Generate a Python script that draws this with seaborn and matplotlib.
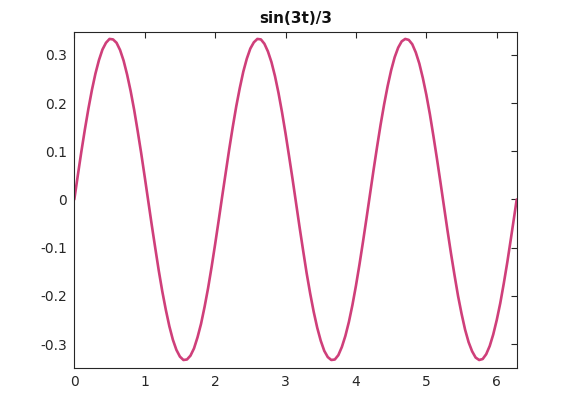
import matplotlib
matplotlib.use("Agg")
import matplotlib.pyplot as plt
import seaborn as sns
import pandas as pd

t_values = [0.00, 0.05, 0.10, 0.15, 0.20, 0.25, 0.30, 0.35, 0.40, 0.45,
            0.50, 0.55, 0.60, 0.65, 0.70, 0.75, 0.80, 0.85, 0.90, 0.95,
            1.00, 1.05, 1.10, 1.15, 1.20, 1.25, 1.30, 1.35, 1.40, 1.45,
            1.50, 1.55, 1.60, 1.65, 1.70, 1.75, 1.80, 1.85, 1.90, 1.95,
            2.00, 2.05, 2.10, 2.15, 2.20, 2.25, 2.30, 2.35, 2.40, 2.45,
            2.50, 2.55, 2.60, 2.65, 2.70, 2.75, 2.80, 2.85, 2.90, 2.95,
            3.00, 3.05, 3.10, 3.15, 3.20, 3.25, 3.30, 3.35, 3.40, 3.45,
            3.50, 3.55, 3.60, 3.65, 3.70, 3.75, 3.80, 3.85, 3.90, 3.95,
            4.00, 4.05, 4.10, 4.15, 4.20, 4.25, 4.30, 4.35, 4.40, 4.45,
            4.50, 4.55, 4.60, 4.65, 4.70, 4.75, 4.80, 4.85, 4.90, 4.95,
            5.00, 5.05, 5.10, 5.15, 5.20, 5.25, 5.30, 5.35, 5.40, 5.45,
            5.50, 5.55, 5.60, 5.65, 5.70, 5.75, 5.80, 5.85, 5.90, 5.95,
            6.00, 6.05, 6.10, 6.15, 6.20, 6.25, 6.2832]

y_values = [0.000, 0.050, 0.099, 0.145, 0.188, 0.227, 0.261, 0.289, 0.311, 0.325,
            0.333, 0.332, 0.325, 0.310, 0.288, 0.259, 0.225, 0.186, 0.142, 0.096,
            0.047, -0.003, -0.053, -0.101, -0.148, -0.191, -0.229, -0.263, -0.291, -0.312,
            -0.326, -0.333, -0.332, -0.324, -0.309, -0.286, -0.258, -0.223, -0.184, -0.140,
            -0.093, -0.044, 0.006, 0.055, 0.104, 0.150, 0.193, 0.231, 0.265, 0.292,
            0.313, 0.326, 0.333, 0.332, 0.323, 0.307, 0.285, 0.256, 0.221, 0.181,
            0.137, 0.090, 0.042, -0.008, -0.058, -0.106, -0.153, -0.195, -0.233, -0.266,
            -0.293, -0.314, -0.327, -0.333, -0.332, -0.323, -0.306, -0.283, -0.254, -0.219,
            -0.179, -0.135, -0.088, -0.039, 0.011, 0.061, 0.109, 0.155, 0.197, 0.235,
            0.268, 0.295, 0.315, 0.328, 0.333, 0.331, 0.322, 0.305, 0.282, 0.252,
            0.217, 0.177, 0.132, 0.085, 0.036, -0.014, -0.064, -0.112, -0.157, -0.200,
            -0.237, -0.270, -0.296, -0.315, -0.328, -0.333, -0.331, -0.321, -0.304, -0.280,
            -0.250, -0.215, -0.174, -0.130, -0.082, -0.033, 0.000]

x_ticks = [0, 1, 2, 3, 4, 5, 6]
y_ticks = [-0.3, -0.2, -0.1, 0, 0.1, 0.2, 0.3]
y_tick_labels = ["-0.3", "-0.2", "-0.1", "0", "0.1", "0.2", "0.3"]
title = "sin(3t)/3"

sns.set_style("white")
plt.rcParams["font.family"] = ["DejaVu Sans"]
plt.rcParams["axes.unicode_minus"] = False

df = pd.DataFrame({"t": t_values, "y": y_values})

fig = plt.figure(figsize=(5.7, 4.13), dpi=100)
ax = fig.add_axes([74.3 / 570, 1 - 367.7 / 413, (516.7 - 74.3) / 570, (367.7 - 31.7) / 413])
sns.lineplot(data=df, x="t", y="y", ax=ax, color="#cf3f7a", linewidth=1.9, sort=False)

ax.set_xlim(0, 6.2832)
ax.set_ylim(-0.349, 0.348)
ax.set_xticks(x_ticks)
ax.set_xticklabels([str(v) for v in x_ticks])
ax.set_yticks(y_ticks)
ax.set_yticklabels(y_tick_labels)
ax.set_xlabel("")
ax.set_ylabel("")
ax.set_title(title, fontsize=11, fontweight="bold", color="#111111", pad=6)

for s in ax.spines.values():
    s.set_visible(True)
    s.set_color("#262626")
    s.set_linewidth(0.8)
ax.tick_params(direction="in", length=4, width=0.8, color="#262626",
               top=True, right=True, labelsize=10, labelcolor="#262626", pad=5)

fig.savefig("out.png", dpi=100, facecolor="white")
